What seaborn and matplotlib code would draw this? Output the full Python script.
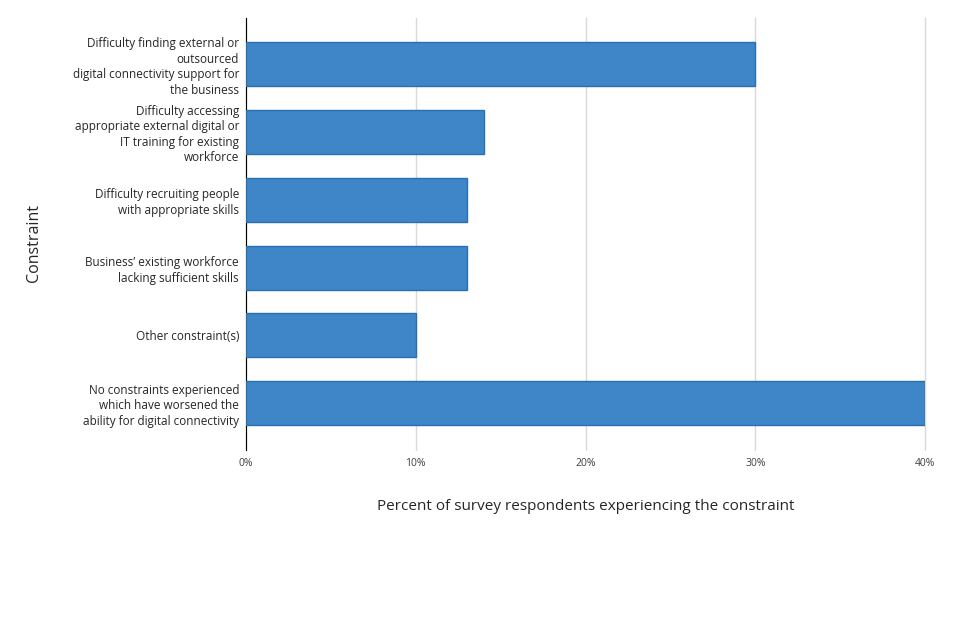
import pandas as pd
import matplotlib.pyplot as plt
import matplotlib.ticker as mtick
import seaborn as sns

constraints = [
    'Difficulty finding external or\noutsourced\ndigital connectivity support for\nthe business',
    'Difficulty accessing\nappropriate external digital or\nIT training for existing\nworkforce',
    'Difficulty recruiting people\nwith appropriate skills',
    'Business\u2019 existing workforce\nlacking sufficient skills',
    'Other constraint(s)',
    'No constraints experienced\nwhich have worsened the\nability for digital connectivity',
]
percent = [30, 14, 13, 13, 10, 40]

df = pd.DataFrame({'Constraint': constraints, 'Percent': percent})

sns.set_style('white')
plt.rcParams['font.family'] = ['Open Sans', 'DejaVu Sans']

fig = plt.figure(figsize=(9.6, 6.4), dpi=100)
ax = fig.add_axes([246 / 960, 1 - 450 / 640, 679 / 960, 432 / 640])

sns.barplot(data=df, x='Percent', y='Constraint', orient='h', color='#3f86c8',
            saturation=1, width=0.65, edgecolor='#2a6fb0', linewidth=1, ax=ax, zorder=3)

ax.set_xlim(0, 40)
ax.set_ylim(5.69, -0.68)
ax.set_xticks([0, 10, 20, 30, 40])
ax.xaxis.set_major_formatter(mtick.PercentFormatter(decimals=0))
ax.grid(axis='x', color='#d9d9d9', linewidth=1, zorder=0)
ax.set_axisbelow(True)
for gl in ax.get_xgridlines():
    gl.set_clip_on(False)

for s in ['top', 'right', 'bottom']:
    ax.spines[s].set_visible(False)
ax.spines['left'].set_color('black')
ax.spines['left'].set_linewidth(0.8)

ax.tick_params(axis='both', length=0)
ax.tick_params(axis='x', labelsize=7.5, pad=6, colors='#404040')
ax.tick_params(axis='y', labelsize=8.5, pad=5)
for lbl in ax.get_yticklabels():
    lbl.set_multialignment('right')
    lbl.set_linespacing(1.25)

ax.set_xlabel('Percent of survey respondents experiencing the constraint', fontsize=11, labelpad=21)
ax.set_ylabel('Constraint', fontsize=11.5)
ax.yaxis.set_label_coords(-0.300, 0.479)

fig.savefig('out.png', dpi=100)
